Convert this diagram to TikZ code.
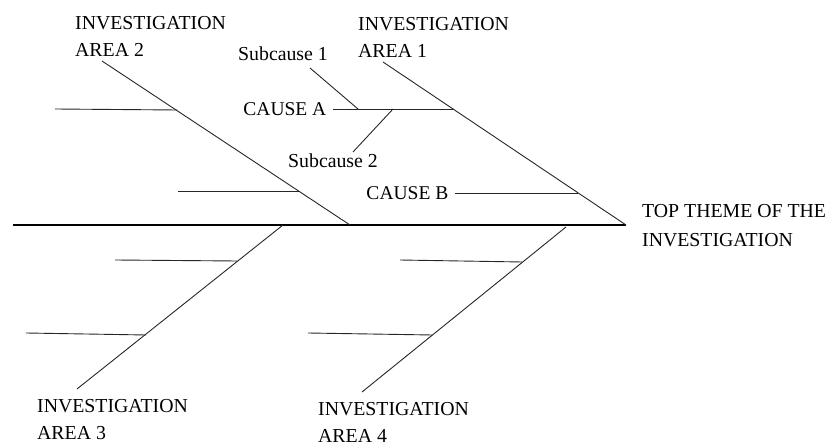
\documentclass[tikz,border=0pt]{standalone}
\usepackage{fontspec}
\setmainfont{Liberation Serif}
\begin{document}
\begin{tikzpicture}[x=1pt,y=-1pt,
  lbl/.style={font=\fontsize{19.8}{27}\selectfont, inner sep=0pt, anchor=base west, align=left},
  causelbl/.style={font=\fontsize{19.5}{27}\selectfont, inner ysep=0pt, inner xsep=6.5pt, anchor=east},
  bone/.style={draw=black!85, line width=0.9pt},
  spine/.style={draw=black, line width=1.3pt}]
\useasboundingbox (0,0) rectangle (831,446);

% head and tail of the spine
\coordinate (tail) at (13,225);
\coordinate (head) at (626,225);

% main bones
\coordinate (b1) at (383,62);   % area 1
\coordinate (b2) at (102,61);   % area 2
\coordinate (b3t) at (283,225); % area 3 root on spine
\coordinate (b3) at (77,389);
\coordinate (b4t) at (566,227); % area 4 root near spine
\coordinate (b4) at (362,392);
\coordinate (b2e) at (350,225); % area 2 root on spine

% junctions on the bones
\coordinate (jA) at (453,109);
\coordinate (jB) at (578,193);
\coordinate (j21) at (177,110);
\coordinate (j22) at (300,191);
\coordinate (j31) at (237,261);
\coordinate (j32) at (146,335);
\coordinate (j41) at (522,262);
\coordinate (j42) at (432,335);

% sub-cause junctions on cause A
\coordinate (s1j) at (358,109);
\coordinate (s2j) at (393,109);
\coordinate (s1) at (310,68);
\coordinate (s2) at (353,152);

% free ends of the unlabeled causes
\coordinate (c21) at (55,109);
\coordinate (c22) at (178,191);
\coordinate (c31) at (115,260);
\coordinate (c32) at (26,333);
\coordinate (c41) at (400,260);
\coordinate (c42) at (308,333);

% labels (base anchor sits on the last line)
\node[lbl] (area2) at (75,57) {INVESTIGATION\\AREA 2};
\node[lbl] (area1) at (358,58) {INVESTIGATION\\AREA 1};
\node[lbl] (area3) at (37,440) {INVESTIGATION\\AREA 3};
\node[lbl] (area4) at (318,443) {INVESTIGATION\\AREA 4};
\node[lbl] (top) at (642,247) {TOP THEME OF THE\\[2pt]INVESTIGATION};
\node[lbl] (sub1) at (238,61) {Subcause 1};
\node[lbl] (sub2) at (288,168) {Subcause 2};
\node[causelbl] (causeA) at (333,109) {CAUSE A};
\node[causelbl] (causeB) at (455,193) {CAUSE B};

% spine
\draw[spine] (tail) -- (head);

% bones
\draw[bone] (b1) -- (head);
\draw[bone] (b2) -- (b2e);
\draw[bone] (b3t) -- (b3);
\draw[bone] (b4t) -- (b4);

% causes
\draw[bone] (causeA.east) -- (jA);
\draw[bone] (causeB.east) -- (jB);
\draw[bone] (s1) -- (s1j);
\draw[bone] (s2) -- (s2j);
\draw[bone] (c21) -- (j21);
\draw[bone] (c22) -- (j22);
\draw[bone] (c31) -- (j31);
\draw[bone] (c32) -- (j32);
\draw[bone] (c41) -- (j41);
\draw[bone] (c42) -- (j42);
\end{tikzpicture}
\end{document}
